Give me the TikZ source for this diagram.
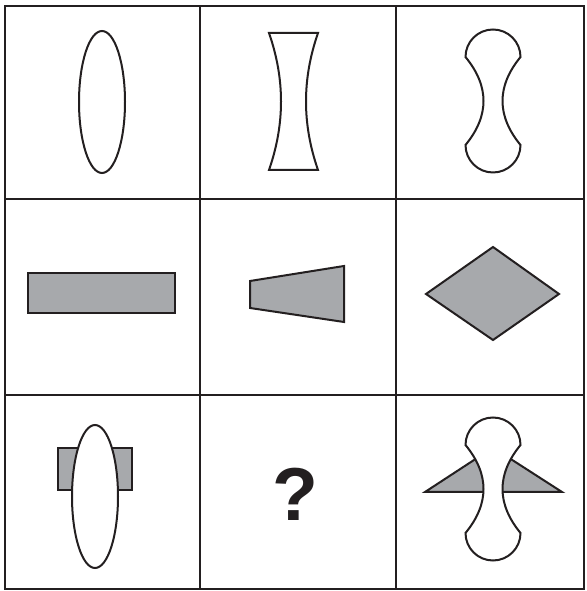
\documentclass[tikz,border=0pt]{standalone}
\usepackage{fontspec}
\setmainfont{Liberation Sans}
\definecolor{ink}{HTML}{231F20}
\definecolor{shade}{HTML}{A7A9AC}
\tikzset{
  outline/.style={draw=ink, line width=2pt, line join=miter},
  gridline/.style={draw=ink, line width=2.2pt},
}
\begin{document}
\begin{tikzpicture}[x=1pt, y=1pt]
  \useasboundingbox (0,0) rectangle (586,591);
  % 骨头形状：#1 #2 为中心
  \def\bone#1#2{\filldraw[outline, fill=white] (#1-27.5,#2+44) arc (180:0:27.5pt)
    .. controls (#1+3.5,#2+14.7) and (#1+3.5,#2-14.7) .. (#1+27.5,#2-44) arc (0:-180:27.5pt)
    .. controls (#1-3.5,#2-14.7) and (#1-3.5,#2+14.7) .. cycle;}

  % 九宫格
  \draw[gridline] (5,2) rectangle (584,585);
  \draw[gridline] (200,2) -- (200,585);
  \draw[gridline] (396,2) -- (396,585);
  \draw[gridline] (5,392) -- (584,392);
  \draw[gridline] (5,196) -- (584,196);

  % 第一行：椭圆、凹透镜、骨头
  \draw[outline] (102,489) ellipse [x radius=23pt, y radius=71pt];
  \draw[outline] (269,558) -- (318,558) .. controls (302,512) and (302,467) .. (318,421)
    -- (269,421) .. controls (285,467) and (285,512) .. cycle;
  \bone{493}{490}

  % 第二行：灰色长方形、梯形、菱形
  \filldraw[outline, fill=shade] (28,278) rectangle (175,318);
  \filldraw[outline, fill=shade] (250,310) -- (344,325) -- (344,269) -- (250,283) -- cycle;
  \filldraw[outline, fill=shade] (493,344) -- (559,297) -- (493,251) -- (426,297) -- cycle;

  % 第三行：长方形被椭圆遮住
  \filldraw[outline, fill=shade] (58,101) rectangle (132,143);
  \filldraw[outline, fill=white] (95,94.5) ellipse [x radius=23pt, y radius=71.5pt];
  \node[font=\fontsize{75}{80}\selectfont\bfseries, text=ink] (q) at (295,97) {?};
  % 两个三角形放在骨头下面
  \filldraw[outline, fill=shade] (425,99) -- (493,143.4) -- (493,99) -- cycle;
  \filldraw[outline, fill=shade] (562,99) -- (493,143.4) -- (493,99) -- cycle;
  \bone{493}{102}
\end{tikzpicture}
\end{document}
